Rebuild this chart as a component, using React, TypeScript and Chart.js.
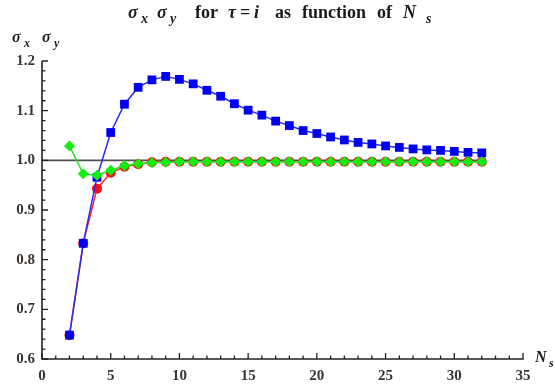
import React, { useEffect, useRef } from "react";
import { Chart, registerables } from "chart.js";

Chart.register(...registerables);

const ns = [2, 3, 4, 5, 6, 7, 8, 9, 10, 11, 12, 13, 14, 15, 16, 17, 18, 19, 20, 21, 22, 23, 24, 25, 26, 27, 28, 29, 30, 31, 32];
const blueValues = [0.648, 0.833, 0.966, 1.056, 1.113, 1.147, 1.162, 1.169, 1.163, 1.154, 1.141, 1.129, 1.114, 1.101, 1.091, 1.079, 1.07, 1.06, 1.054, 1.047, 1.041, 1.036, 1.033, 1.029, 1.026, 1.023, 1.021, 1.02, 1.018, 1.016, 1.015];
const redValues = [0.648, 0.833, 0.943, 0.975, 0.987, 0.992, 0.996, 0.997, 0.997, 0.997, 0.997, 0.997, 0.997, 0.997, 0.997, 0.997, 0.997, 0.997, 0.997, 0.997, 0.997, 0.997, 0.997, 0.997, 0.997, 0.997, 0.997, 0.997, 0.997, 0.997, 0.997];
const greenValues = [1.029, 0.973, 0.97, 0.98, 0.989, 0.993, 0.995, 0.996, 0.997, 0.997, 0.997, 0.997, 0.997, 0.997, 0.997, 0.997, 0.997, 0.997, 0.997, 0.997, 0.997, 0.997, 0.997, 0.997, 0.997, 0.997, 0.997, 0.997, 0.997, 0.997, 0.997];
const refLineX = [0, 32];
const refLineY = [1, 1];

const xMin = 0, xMax = 35, xMajor = 5, xMinor = 1;
const yMin = 0.6, yMax = 1.2, yMajor = 0.1, yMinor = 0.02;

const SERIF = "'Liberation Serif', 'DejaVu Serif', serif";
const TEXT = "#3a3530";

type Seg = { t: string; x: number; italic?: boolean; sub?: boolean };

function drawSegs(ctx: CanvasRenderingContext2D, segs: Seg[], y: number, base: number) {
  ctx.textBaseline = "alphabetic";
  ctx.textAlign = "left";
  segs.forEach((s) => {
    const size = s.sub ? Math.round(base * 0.75) : base;
    ctx.font = `${s.italic ? "italic " : ""}bold ${size}px ${SERIF}`;
    ctx.fillText(s.t, s.x, s.sub ? y + base * 0.3 : y);
  });
}

const axesPlugin = {
  id: "mmaAxes",
  afterDraw(chart: any) {
    const ctx: CanvasRenderingContext2D = chart.ctx;
    const xs = chart.scales.x;
    const ys = chart.scales.y;
    const x0 = xs.getPixelForValue(xMin);
    const x1 = xs.getPixelForValue(xMax);
    const y0 = ys.getPixelForValue(yMin);
    const y1 = ys.getPixelForValue(yMax);
    ctx.save();
    ctx.strokeStyle = "#222";
    ctx.lineWidth = 1.6;
    ctx.beginPath();
    ctx.moveTo(x0, y0);
    ctx.lineTo(x1 + 0.8, y0);
    ctx.moveTo(x0, y0 + 0.8);
    ctx.lineTo(x0, y1);
    ctx.stroke();
    ctx.lineWidth = 1.3;
    ctx.beginPath();
    for (let v = xMin; v <= xMax + 1e-9; v += xMinor) {
      const px = xs.getPixelForValue(v);
      const major = Math.abs(v / xMajor - Math.round(v / xMajor)) < 1e-6;
      ctx.moveTo(px, y0);
      ctx.lineTo(px, y0 - (major ? 6 : 3.5));
    }
    for (let v = yMin; v <= yMax + 1e-9; v += yMinor) {
      const py = ys.getPixelForValue(v);
      const major = Math.abs(v / yMajor - Math.round(v / yMajor)) < 1e-6;
      ctx.moveTo(x0, py);
      ctx.lineTo(x0 + (major ? 6 : 3.5), py);
    }
    ctx.stroke();

    ctx.fillStyle = "#1a1a1a";
    drawSegs(
      ctx,
      [
        { t: "σ", x: 128, italic: true },
        { t: "x", x: 141, italic: true, sub: true },
        { t: "σ", x: 157, italic: true },
        { t: "y", x: 170, italic: true, sub: true },
        { t: "for", x: 195 },
        { t: "τ", x: 228, italic: true },
        { t: "=", x: 240 },
        { t: "i", x: 254, italic: true },
        { t: "as", x: 275 },
        { t: "function", x: 302 },
        { t: "of", x: 377 },
        { t: "N", x: 403, italic: true },
        { t: "s", x: 426, italic: true, sub: true },
      ],
      18,
      18
    );
    drawSegs(
      ctx,
      [
        { t: "σ", x: 12, italic: true },
        { t: "x", x: 24, italic: true, sub: true },
        { t: "σ", x: 42, italic: true },
        { t: "y", x: 54, italic: true, sub: true },
      ],
      42,
      16
    );
    drawSegs(
      ctx,
      [
        { t: "N", x: 535, italic: true },
        { t: "s", x: 549, italic: true, sub: true },
      ],
      362,
      16
    );
    ctx.restore();
  },
};

const toPts = (xsArr: number[], ysArr: number[]) => xsArr.map((x, i) => ({ x, y: ysArr[i] }));

export default function App() {
  const ref = useRef<HTMLCanvasElement | null>(null);
  useEffect(() => {
    if (!ref.current) return;
    const chart = new Chart(ref.current, {
      type: "line",
      data: {
        datasets: [
          {
            label: "green",
            data: toPts(ns, greenValues),
            borderColor: "#22e022",
            backgroundColor: "#11ee11",
            borderWidth: 1.5,
            pointStyle: "rectRot",
            pointRadius: 5.5,
            pointBorderWidth: 0,
            order: 0,
          },
          {
            label: "blue",
            data: toPts(ns, blueValues),
            borderColor: "#2a2af0",
            backgroundColor: "#0000f0",
            borderWidth: 1.5,
            pointStyle: "rect",
            pointRadius: 6.2,
            pointBorderWidth: 0,
            order: 1,
          },
          {
            label: "red",
            data: toPts(ns, redValues),
            borderColor: "#f02a2a",
            backgroundColor: "#ff1010",
            borderWidth: 1.5,
            pointStyle: "circle",
            pointRadius: 5,
            pointBorderWidth: 0,
            order: 2,
          },
          {
            label: "ref",
            data: toPts(refLineX, refLineY),
            borderColor: "rgba(50,50,50,0.85)",
            borderWidth: 1.8,
            pointRadius: 0,
            order: 3,
          },
        ],
      },
      options: {
        responsive: false,
        animation: false,
        layout: { padding: { left: 0, right: 32, top: 61, bottom: 0 } },
        plugins: { legend: { display: false }, tooltip: { enabled: false }, title: { display: false } },
        scales: {
          x: {
            type: "linear",
            min: xMin,
            max: xMax,
            grid: { display: false, drawTicks: false },
            border: { display: false },
            ticks: {
              stepSize: xMajor,
              padding: 8,
              color: TEXT,
              font: { family: SERIF, size: 15, weight: "bold" },
              maxRotation: 0,
            },
            afterFit: (s: any) => {
              s.height = 29;
            },
          },
          y: {
            type: "linear",
            min: yMin,
            max: yMax,
            grid: { display: false, drawTicks: false },
            border: { display: false },
            ticks: {
              stepSize: yMajor,
              padding: 7,
              color: TEXT,
              font: { family: SERIF, size: 15, weight: "bold" },
              callback: (v: any) => Number(v).toFixed(1),
            },
            afterFit: (s: any) => {
              s.width = 42;
            },
          },
        },
      },
      plugins: [axesPlugin],
    });
    return () => chart.destroy();
  }, []);
  return (
    <div style={{ position: "fixed", left: 0, top: 0, width: 555, height: 388, background: "#fff" }}>
      <canvas ref={ref} width={555} height={388} style={{ width: 555, height: 388, display: "block" }} />
    </div>
  );
}
